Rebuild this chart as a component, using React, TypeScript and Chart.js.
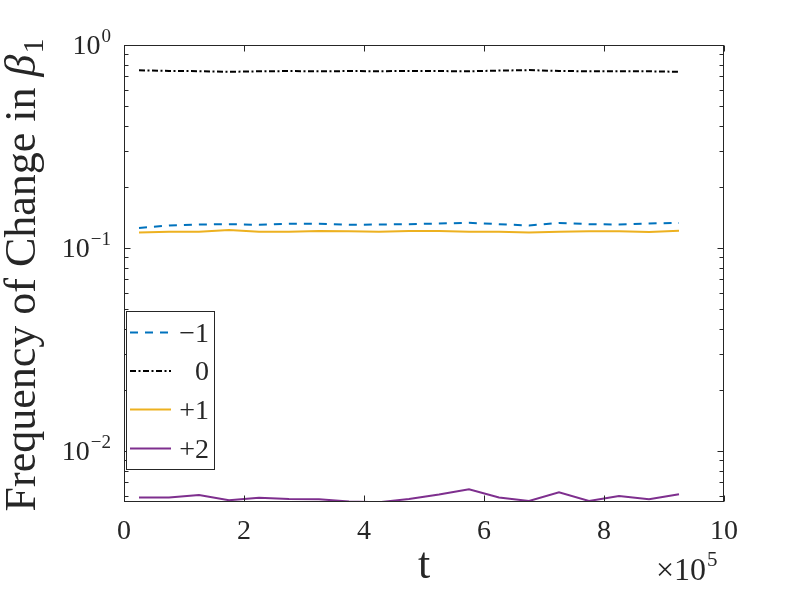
import { useEffect, useRef } from "react"
import { Chart, registerables } from "chart.js"

Chart.register(...registerables)

// t values (raw), axis shows them in units of 1e5
const tValues = [
  25000, 75000, 125000, 175000, 225000, 275000, 325000, 375000, 425000, 475000,
  525000, 575000, 625000, 675000, 725000, 775000, 825000, 875000, 925000,
]

const seriesLabels = ["−1", "0", "+1", "+2"]

const freqMinus1 = [
  0.1255, 0.129, 0.1305, 0.131, 0.13, 0.1315, 0.1315, 0.13, 0.1305, 0.131,
  0.132, 0.133, 0.131, 0.129, 0.1328, 0.131, 0.1305, 0.132, 0.1328,
]
const freqZero = [
  0.75, 0.745, 0.743, 0.738, 0.742, 0.744, 0.742, 0.744, 0.743, 0.745,
  0.744, 0.742, 0.748, 0.752, 0.745, 0.742, 0.743, 0.742, 0.738,
]
const freqPlus1 = [
  0.119, 0.1203, 0.1203, 0.1227, 0.1203, 0.1203, 0.1213, 0.1207, 0.1203, 0.1213,
  0.1213, 0.1203, 0.1203, 0.119, 0.1203, 0.1207, 0.1207, 0.1199, 0.1217,
]
const freqPlus2 = [
  0.00589, 0.00589, 0.00607, 0.00572, 0.00587, 0.0058, 0.00578, 0.00563, 0.00559, 0.0058,
  0.00609, 0.00647, 0.00589, 0.00567, 0.00626, 0.00567, 0.006, 0.00578, 0.00612,
]

const xTickValues = [0, 200000, 400000, 600000, 800000, 1000000]
const xTickLabels = ["0", "2", "4", "6", "8", "10"]
const yTickValues = [1, 0.1, 0.01]
const yTickExponents = ["0", "−1", "−2"]

const FONT = '"Liberation Serif", "DejaVu Serif", serif'
const INK = "#262626"

const matlabAxes = {
  id: "matlabAxes",
  afterDraw(chart: any) {
    const { ctx, chartArea: a } = chart
    const xs = chart.scales.x
    const ys = chart.scales.y
    const L = Math.round(a.left) + 0.5
    const R = Math.round(a.right) - 0.5
    const T = Math.round(a.top) + 0.5
    const B = Math.round(a.bottom) - 0.5

    ctx.save()
    ctx.strokeStyle = INK
    ctx.fillStyle = INK
    ctx.lineWidth = 1
    ctx.setLineDash([])

    // box
    ctx.strokeRect(L, T, R - L, B - T)

    // x ticks (inward, top and bottom)
    ctx.beginPath()
    xTickValues.forEach((v) => {
      const px = Math.round(xs.getPixelForValue(v)) + 0.5
      ctx.moveTo(px, B)
      ctx.lineTo(px, B - 6)
      ctx.moveTo(px, T)
      ctx.lineTo(px, T + 6)
    })
    // y major + minor ticks
    const lo = ys.min
    const hi = ys.max
    for (let e = Math.floor(Math.log10(lo)); e <= Math.ceil(Math.log10(hi)); e++) {
      for (let m = 1; m <= 9; m++) {
        const v = m * Math.pow(10, e)
        if (v < lo * 0.9999 || v > hi * 1.0001) continue
        const py = Math.round(ys.getPixelForValue(v)) + 0.5
        const len = m === 1 ? 6 : 4
        ctx.moveTo(L, py)
        ctx.lineTo(L + len, py)
        ctx.moveTo(R, py)
        ctx.lineTo(R - len, py)
      }
    }
    ctx.stroke()

    // x tick labels
    ctx.font = `28px ${FONT}`
    ctx.textAlign = "center"
    ctx.textBaseline = "alphabetic"
    xTickValues.forEach((v, i) => {
      ctx.fillText(xTickLabels[i], xs.getPixelForValue(v), 539)
    })

    // y tick labels 10^k
    yTickValues.forEach((v, i) => {
      const py = ys.getPixelForValue(v)
      ctx.font = `19px ${FONT}`
      ctx.textAlign = "right"
      const ew = ctx.measureText(yTickExponents[i]).width
      ctx.fillText(yTickExponents[i], 111, py - 3)
      ctx.font = `28px ${FONT}`
      ctx.fillText("10", 111 - ew - 1, py + 9)
    })

    // x axis multiplier
    ctx.textAlign = "left"
    ctx.font = `32px ${FONT}`
    ctx.fillText("×10", 656, 580)
    const mw = ctx.measureText("×10").width
    ctx.font = `21px ${FONT}`
    ctx.fillText("5", 656 + mw + 1, 566)

    // x label
    ctx.textAlign = "center"
    ctx.font = `44px ${FONT}`
    ctx.fillText("t", (a.left + a.right) / 2, 578)

    // y label
    ctx.save()
    ctx.translate(35, (a.top + a.bottom) / 2 + 2)
    ctx.rotate(-Math.PI / 2)
    ctx.textAlign = "left"
    const main = "Frequency of Change in "
    ctx.font = `44px ${FONT}`
    const w1 = ctx.measureText(main).width
    ctx.font = `italic 44px ${FONT}`
    const w2 = ctx.measureText("β").width
    ctx.font = `30px ${FONT}`
    const w3 = ctx.measureText("1").width
    const start = -(w1 + w2 + w3) / 2
    ctx.font = `44px ${FONT}`
    ctx.fillText(main, start, 0)
    ctx.font = `italic 44px ${FONT}`
    ctx.fillText("β", start + w1, 0)
    ctx.font = `30px ${FONT}`
    ctx.fillText("1", start + w1 + w2 + 1, 8)
    ctx.restore()

    // legend
    const lx = 126.5
    const ly = 311.5
    const lw = 88
    const lh = 158
    ctx.fillStyle = "#ffffff"
    ctx.fillRect(lx, ly, lw, lh)
    ctx.strokeStyle = INK
    ctx.strokeRect(lx, ly, lw, lh)
    const rowY = [332.5, 371, 409.5, 448.5]
    chart.data.datasets.forEach((ds: any, i: number) => {
      ctx.strokeStyle = ds.borderColor
      ctx.lineWidth = ds.borderWidth
      ctx.setLineDash(ds.borderDash || [])
      ctx.beginPath()
      ctx.moveTo(130, rowY[i])
      ctx.lineTo(171, rowY[i])
      ctx.stroke()
      ctx.setLineDash([])
      ctx.fillStyle = INK
      ctx.font = `28px ${FONT}`
      ctx.textAlign = "right"
      ctx.fillText(ds.label, 209, rowY[i] + 9)
    })

    ctx.restore()
  },
}

export default function App() {
  const chartRef = useRef<HTMLCanvasElement>(null)
  const chartInstance = useRef<Chart | null>(null)

  useEffect(() => {
    if (!chartRef.current) return
    if (chartInstance.current) chartInstance.current.destroy()
    const ctx = chartRef.current.getContext("2d")
    if (!ctx) return

    const toPoints = (arr: number[]) => tValues.map((t, i) => ({ x: t, y: arr[i] }))

    chartInstance.current = new Chart(ctx, {
      type: "line",
      data: {
        datasets: [
          {
            label: seriesLabels[0],
            data: toPoints(freqMinus1),
            borderColor: "#0072BD",
            borderWidth: 2,
            borderDash: [8, 7],
          },
          {
            label: seriesLabels[1],
            data: toPoints(freqZero),
            borderColor: "#000000",
            borderWidth: 2,
            borderDash: [6, 2.5, 2, 2.5],
          },
          {
            label: seriesLabels[2],
            data: toPoints(freqPlus1),
            borderColor: "#EDB120",
            borderWidth: 2,
          },
          {
            label: seriesLabels[3],
            data: toPoints(freqPlus2),
            borderColor: "#7E2F8E",
            borderWidth: 2,
          },
        ],
      },
      options: {
        animation: false,
        responsive: false,
        layout: { padding: { left: 124, top: 45, right: 76, bottom: 98 } },
        elements: { point: { radius: 0 }, line: { tension: 0, fill: false } },
        plugins: { legend: { display: false }, tooltip: { enabled: false } },
        scales: {
          x: { type: "linear", min: 0, max: 1000000, display: false },
          y: { type: "logarithmic", min: 0.0056, max: 1, display: false },
        },
      },
      plugins: [matlabAxes],
    })

    return () => {
      if (chartInstance.current) {
        chartInstance.current.destroy()
        chartInstance.current = null
      }
    }
  }, [])

  return (
    <div style={{ position: "fixed", left: 0, top: 0, width: 800, height: 600, background: "#fff" }}>
      <canvas ref={chartRef} width={800} height={600} />
    </div>
  )
}
